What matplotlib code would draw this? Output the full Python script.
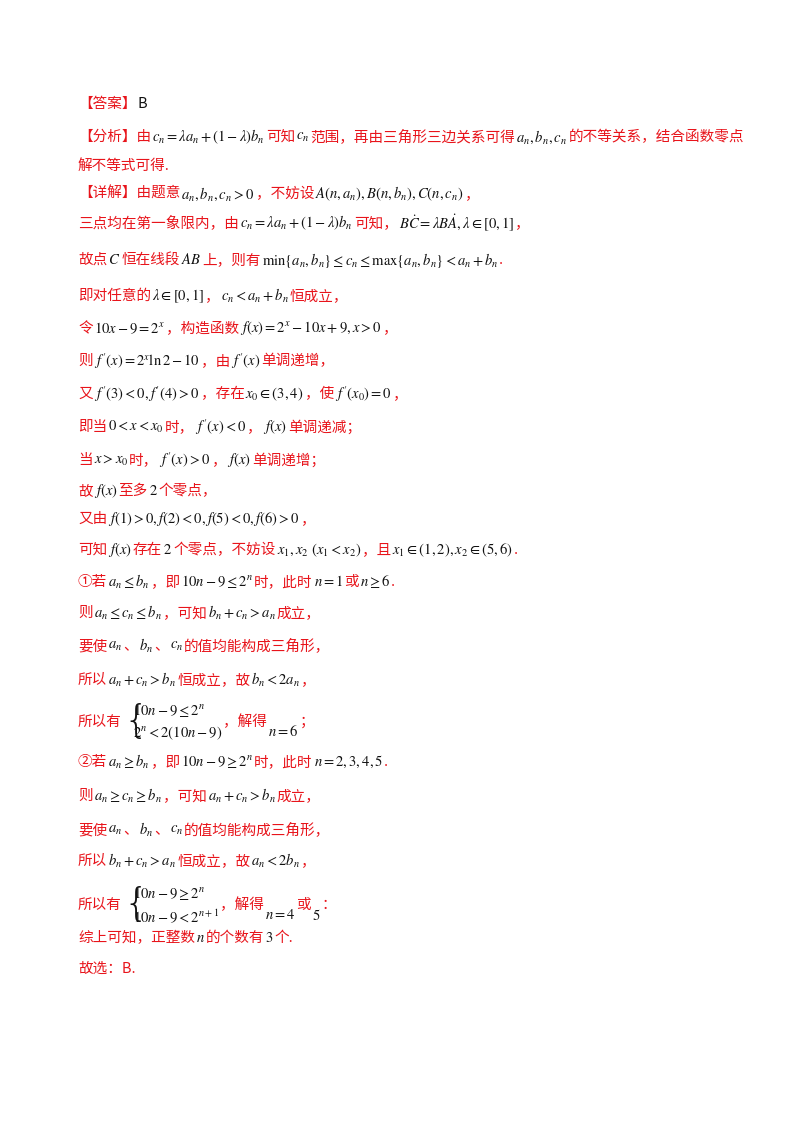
import matplotlib
matplotlib.use("Agg")
import matplotlib.pyplot as plt

plt.rcParams['font.family'] = ['Noto Sans CJK SC', 'DejaVu Sans']
plt.rcParams['mathtext.fontset'] = 'stix'

RED = '#e8141b'
BLK = '#111111'
FS = 10.5

lines = [
    (104, ["【答案】", ("B", BLK, 0)]),
    (137, ["【分析】由", r"$c_n=\lambda a_n+(1-\lambda)b_n$", "可知", r"$c_n$", "范围，再由三角形三边关系可得", r"$a_n,b_n,c_n$", "的不等关系，结合函数零点"]),
    (166, ["解不等式可得."]),
    (194, ["【详解】由题意", r"$a_n,b_n,c_n>0$", "，不妨设", r"$A(n,a_n),B(n,b_n),C(n,c_n)$", "，"]),
    (223, ["三点均在第一象限内，由", r"$c_n=\lambda a_n+(1-\lambda)b_n$", "可知，", r"$B\dot{C}=\lambda B\dot{A},\lambda\in\left[0,1\right]$", "，"]),
    (260, ["故点", r"$C$", "恒在线段", r"$AB$", "上，则有", r"$\min\{a_n,b_n\}\leq c_n\leq\max\{a_n,b_n\}<a_n+b_n$", "."]),
    (296, ["即对任意的", r"$\lambda\in\left[0,1\right]$", "，", r"$c_n<a_n+b_n$", "恒成立，"]),
    (328, ["令", r"$10x-9=2^x$", "，构造函数", r"$f(x)=2^x-10x+9,x>0$", "，"]),
    (361, ["则", r"$f'(x)=2^x\ln 2-10$", "，由", r"$f'(x)$", "单调递增，"]),
    (394, ["又", r"$f'(3)<0,f'(4)>0$", "，存在", r"$x_0\in(3,4)$", "，使", r"$f'(x_0)=0$", "，"]),
    (427, ["即当", r"$0<x<x_0$", "时，", r"$f'(x)<0$", "，", r"$f(x)$", "单调递减；"]),
    (460, ["当", r"$x>x_0$", "时，", r"$f'(x)>0$", "，", r"$f(x)$", "单调递增；"]),
    (491, ["故", r"$f(x)$", "至多", r"$2$", "个零点，"]),
    (519, ["又由", r"$f(1)>0,f(2)<0,f(5)<0,f(6)>0$", "，"]),
    (550, ["可知", r"$f(x)$", "存在", r"$2$", "个零点，不妨设", r"$x_1,x_2\ (x_1<x_2)$", "，且", r"$x_1\in(1,2),x_2\in(5,6)$", "."]),
    (582, ["①若", r"$a_n\leq b_n$", "，即", r"$10n-9\leq 2^n$", "时，此时", r"$n=1$", "或", r"$n\geq 6$", "."]),
    (613, ["则", r"$a_n\leq c_n\leq b_n$", "，可知", r"$b_n+c_n>a_n$", "成立，"]),
    (646, ["要使", r"$a_n$", "、", r"$b_n$", "、", r"$c_n$", "的值均能构成三角形，"]),
    (680, ["所以", r"$a_n+c_n>b_n$", "恒成立，故", r"$b_n<2a_n$", "，"]),
    (722, ["所以有", ("BRACE", r"$10n-9\leq 2^n$", r"$2^n<2(10n-9)$"), "，解得", (r"$n=6$", BLK, 10), "；"]),
    (762, ["②若", r"$a_n\geq b_n$", "，即", r"$10n-9\geq 2^n$", "时，此时", r"$n=2,3,4,5$", "."]),
    (796, ["则", r"$a_n\geq c_n\geq b_n$", "，可知", r"$a_n+c_n>b_n$", "成立，"]),
    (830, ["要使", r"$a_n$", "、", r"$b_n$", "、", r"$c_n$", "的值均能构成三角形，"]),
    (861, ["所以", r"$b_n+c_n>a_n$", "恒成立，故", r"$a_n<2b_n$", "，"]),
    (905, ["所以有", ("BRACE", r"$10n-9\geq 2^n$", r"$10n-9<2^{n+1}$"), "，解得", (r"$n=4$", BLK, 10), "或", (r"$5$", BLK, 10), "："]),
    (938, ["综上可知，正整数", r"$n$", "的个数有", r"$3$", "个."]),
    (969, ["故选：B."]),
]

W, H = 800, 1132
fig = plt.figure(figsize=(W/100, H/100), dpi=100)
fig.patch.set_facecolor('white')
r = fig.canvas.get_renderer()

def put(x, y, s, color, fs=FS):
    t = fig.text(x/W, 1 - y/H, s, color=color, fontsize=fs, va='center', ha='left')
    bb = t.get_window_extent(renderer=r)
    return x + bb.width + 1

for y, segs in lines:
    x = 78
    for seg in segs:
        if isinstance(seg, str):
            color = BLK if seg.startswith('$') else RED
            x = put(x, y, seg, color)
        elif seg[0] == "BRACE":
            fig.text(x/W, 1 - y/H, "{", fontsize=28, color=BLK, va='center', ha='left',
                     family='DejaVu Sans', fontweight='light')
            x1 = put(x + 10, y - 11, seg[1], BLK)
            x2 = put(x + 10, y + 11, seg[2], BLK)
            x = max(x1, x2)
        else:
            s, color, dy = seg
            x = put(x, y + dy, s, color)

fig.savefig("out.png", dpi=100, facecolor='white')
